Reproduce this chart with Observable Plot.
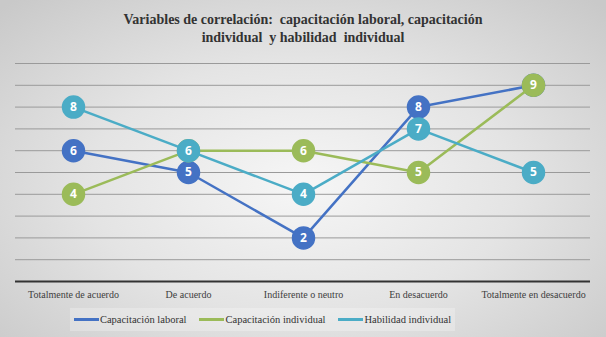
<!DOCTYPE html>
<html>
<head>
<meta charset="utf-8">
<script src="https://cdn.jsdelivr.net/npm/d3@7"></script>
<script src="https://cdn.jsdelivr.net/npm/@observablehq/plot@0.6"></script>
</head>
<body style="margin:0;padding:0">
<div id="wrap" style="position:relative;width:606px;height:337px;overflow:hidden;background:radial-gradient(ellipse 70% 75% at 50% 55%, #f6f6f6 0%, #e4e4e4 50%, #c9c9c9 100%);font-family:'Liberation Serif'">
  <div id="title" style="position:absolute;left:0;top:11px;width:606px;text-align:center;font-weight:bold;font-size:14px;line-height:18px;color:#333;font-family:'Liberation Serif'">Variables de correlación:&nbsp; capacitación laboral, capacitación<br>individual&nbsp; y habilidad&nbsp; individual</div>
  <div id="chart" style="position:absolute;left:0;top:48px"></div>
  <div id="legend" style="position:absolute;left:70px;top:308px;width:385px;height:23px;display:flex;align-items:center;justify-content:center;gap:13px;font-size:10.5px;color:#333;background:rgba(255,255,255,0.25);white-space:nowrap;font-family:'Liberation Serif'"></div>
</div>
<script>
const categories = ["Totalmente de acuerdo", "De acuerdo", "Indiferente o neutro", "En desacuerdo", "Totalmente en desacuerdo"];
const seriesNames = ["Capacitación laboral", "Capacitación individual", "Habilidad individual"];
const capacitacionLaboral = [6, 5, 2, 8, 9];
const capacitacionIndividual = [4, 6, 6, 5, 9];
const habilidadIndividual = [8, 6, 4, 7, 5];
const colors = ["#4472C4", "#9BBB59", "#4BACC6"];
const gridValues = [1, 2, 3, 4, 5, 6, 7, 8, 9, 10];

const allSeries = [capacitacionLaboral, capacitacionIndividual, habilidadIndividual];
const marks = [
  Plot.ruleY(gridValues, {stroke: "#9a9a9a", strokeWidth: 1}),
  Plot.ruleY([0], {stroke: "#333", strokeWidth: 2}),
  Plot.axisX({tickSize: 0, tickPadding: 9, fontSize: 10, fill: "#404040", label: null})
];
allSeries.forEach((vals, i) => {
  const data = categories.map((c, j) => ({cat: c, v: vals[j]}));
  marks.push(Plot.line(data, {x: "cat", y: "v", stroke: colors[i], strokeWidth: 2.5}));
  marks.push(Plot.dot(data, {x: "cat", y: "v", r: 11, fill: colors[i], stroke: colors[i]}));
  marks.push(Plot.text(data, {x: "cat", y: "v", text: d => String(d.v), fill: "white", fontWeight: "bold", fontSize: 12, className: "lbl"}));
});

const plot = Plot.plot({
  width: 606, height: 258,
  marginLeft: 15, marginRight: 16, marginTop: 15, marginBottom: 25,
  style: {background: "transparent", overflow: "visible"},
  x: {type: "point", domain: categories, padding: 0.5, axis: null},
  y: {domain: [0, 10], axis: null},
  marks
});
plot.querySelectorAll("text").forEach(t => { t.style.fontFamily = "'Liberation Serif'"; });
plot.querySelectorAll(".lbl text").forEach(t => { t.style.fontFamily = "'Open Sans'"; });
document.getElementById("chart").appendChild(plot);

const legend = document.getElementById("legend");
seriesNames.forEach((n, i) => {
  const it = document.createElement("div");
  it.style.display = "flex";
  it.style.alignItems = "center";
  const sw = document.createElement("span");
  sw.style.cssText = `display:inline-block;width:25px;height:3px;margin-right:1px;background:${colors[i]}`;
  const tx = document.createElement("span");
  tx.textContent = n;
  it.appendChild(sw); it.appendChild(tx);
  legend.appendChild(it);
});
</script>
</body>
</html>
